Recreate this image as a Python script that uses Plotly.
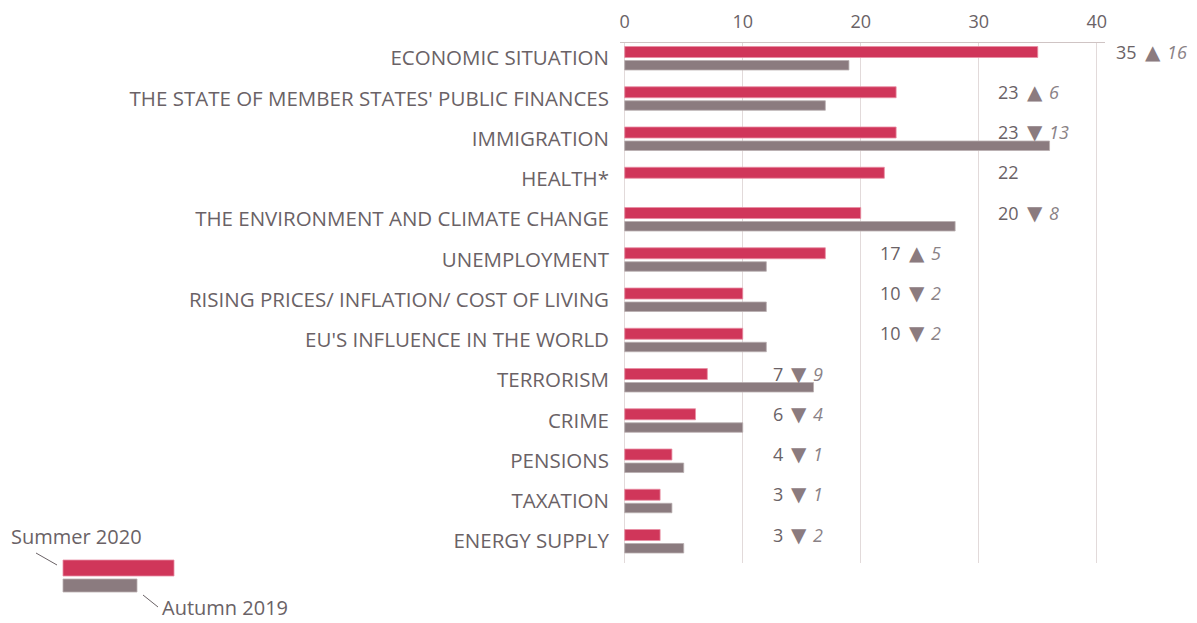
import plotly.graph_objects as go
import math

categories = [
    "ECONOMIC SITUATION",
    "THE STATE OF MEMBER STATES' PUBLIC FINANCES",
    "IMMIGRATION",
    "HEALTH*",
    "THE ENVIRONMENT AND CLIMATE CHANGE",
    "UNEMPLOYMENT",
    "RISING PRICES/ INFLATION/ COST OF LIVING",
    "EU'S INFLUENCE IN THE WORLD",
    "TERRORISM",
    "CRIME",
    "PENSIONS",
    "TAXATION",
    "ENERGY SUPPLY",
]
summer_2020 = [35, 23, 23, 22, 20, 17, 10, 10, 7, 6, 4, 3, 3]
autumn_2019 = [19, 17, 36, None, 28, 12, 12, 12, 16, 10, 5, 4, 5]
x_ticks = [0, 10, 20, 30, 40]

RED = "#D0365A"
GREY = "#8B7B7F"
TEXT = "#6A6266"
FONT = "Open Sans"

ypos = [-i for i in range(len(categories))]

fig = go.Figure()
fig.add_trace(go.Bar(
    y=ypos, x=summer_2020, orientation="h", name="Summer 2020",
    marker=dict(color=RED, line=dict(color="#E88EA3", width=0.8)),
    offset=0.019, width=0.273, hoverinfo="x+name",
))
fig.add_trace(go.Bar(
    y=ypos, x=autumn_2019, orientation="h", name="Autumn 2019",
    marker=dict(color=GREY, line=dict(color="#B9AEB0", width=0.8)),
    offset=-0.292, width=0.236, hoverinfo="x+name",
))

annotations = []
for yp, s, a in zip(ypos, summer_2020, autumn_2019):
    gx = (math.floor(s / 10) + 1) * 10
    ya = yp + 0.165
    annotations.append(dict(x=gx, y=ya, xref="x", yref="y", text=str(s),
                            showarrow=False, xanchor="right", xshift=42,
                            font=dict(family=FONT, size=18, color=TEXT)))
    if a is not None:
        d = s - a
        tri = "▲" if d > 0 else "▼"
        annotations.append(dict(x=gx, y=ya, xref="x", yref="y", text=tri,
                                showarrow=False, xanchor="center", xshift=56,
                                font=dict(family="DejaVu Sans", size=20, color=GREY)))
        annotations.append(dict(x=gx, y=ya, xref="x", yref="y", text="<i>%d</i>" % abs(d),
                                showarrow=False, xanchor="left", xshift=68,
                                font=dict(family=FONT, size=18, color="#8A8286")))

# page offset of the figure (browser body margin)
OFF = 8
# plot area in page pixels
L, R, T, B = 620, 1105, 43, 563
W, H = 1197, 623
def px(x):
    return (x - L) / (R - L)
def py(y):
    return (B - y) / (B - T)

shapes = [
    dict(type="rect", xref="paper", yref="paper", x0=px(63), x1=px(174), y0=py(576), y1=py(560),
         fillcolor=RED, line=dict(color="#E88EA3", width=0.8)),
    dict(type="rect", xref="paper", yref="paper", x0=px(63), x1=px(137), y0=py(592), y1=py(579),
         fillcolor=GREY, line=dict(color="#B9AEB0", width=0.8)),
    dict(type="line", xref="paper", yref="paper", x0=px(36), x1=px(57), y0=py(553), y1=py(565),
         line=dict(color=TEXT, width=1)),
    dict(type="line", xref="paper", yref="paper", x0=px(143), x1=px(158), y0=py(595), y1=py(607),
         line=dict(color=TEXT, width=1)),
]
annotations.append(dict(x=px(9), y=py(536), xref="paper", yref="paper", text="Summer 2020",
                        showarrow=False, xanchor="left", yanchor="middle",
                        font=dict(family=FONT, size=20, color=TEXT)))
annotations.append(dict(x=px(160), y=py(607), xref="paper", yref="paper", text="Autumn 2019",
                        showarrow=False, xanchor="left", yanchor="middle",
                        font=dict(family=FONT, size=20, color=TEXT)))

fig.update_layout(
    width=W - OFF, height=H - OFF,
    margin=dict(l=L - OFF, r=W - R, t=T - OFF, b=H - B, autoexpand=False),
    paper_bgcolor="white", plot_bgcolor="white",
    barmode="overlay", showlegend=False,
    font=dict(family=FONT, size=19, color=TEXT),
    shapes=shapes, annotations=annotations,
    xaxis=dict(side="top", range=[-0.4, 40.7], tickvals=x_ticks, automargin=False,
               showgrid=True, gridcolor="#E2DADA", gridwidth=1,
               zeroline=False, showline=True, linecolor="#CFC4C4", linewidth=1,
               ticks="", ticklabelstandoff=7,
               tickfont=dict(family=FONT, size=18, color=TEXT)),
    yaxis=dict(range=[-12.54, 0.379], tickvals=ypos, ticktext=categories, automargin=False,
               showgrid=False, zeroline=False, showline=False, ticks="",
               ticklabelstandoff=10,
               tickfont=dict(family=FONT, size=20.5, color=TEXT)),
)
fig.write_html("out.html")
